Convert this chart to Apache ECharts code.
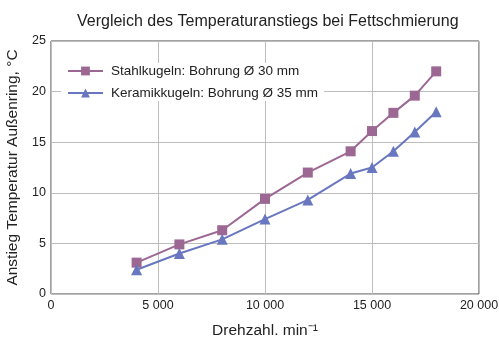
<!DOCTYPE html>
<html>
<head>
<meta charset="utf-8">
<script src="https://cdn.jsdelivr.net/npm/echarts@6/dist/echarts.min.js"></script>
<style>
	html, body {margin: 0; padding: 0; background: #fff;}
	#chart {width: 499px; height: 338px;}
</style>
</head>
<body>
<div id="chart"></div>
<script>
// data
var drehzahl = [4000, 6000, 8000, 10000, 12000, 14000, 15000, 16000, 17000, 18000];
var stahl = [3.1, 4.9, 6.3, 9.4, 12.0, 14.1, 16.1, 17.9, 19.6, 22.0];
var keramik = [2.4, 4.0, 5.4, 7.4, 9.3, 11.9, 12.5, 14.1, 16.0, 18.0];
var seriesNames = ['Stahlkugeln: Bohrung Ø 30 mm', 'Keramikkugeln: Bohrung Ø 35 mm'];

function pairs(xs, ys){
	var out = [];
	for (var i=0; i<xs.length; i++){
		out.push([xs[i], ys[i]]);
	}
	return out;
}

// "15000" -> "15 000"
function thousands(v){
	return String(v).replace(/\B(?=(\d{3})+(?!\d))/g, ' ');
}

var font = 'Liberation Sans, Arial, sans-serif';
var chart = echarts.init(document.getElementById('chart'));
var option = {
	animation: false,
	textStyle: {fontFamily: font},
	title: {
		text: 'Vergleich des Temperaturanstiegs bei Fettschmierung',
		left: 72,
		top: 9,
		textStyle: {fontSize: 16, fontWeight: 'normal', color: '#222', fontFamily: font}
	},
	grid: {
		left: 51, right: 20, top: 41, bottom: 44,
		outerBoundsMode: 'none',
		containLabel: false,
		show: true, borderColor: '#444', borderWidth: 1, backgroundColor: '#fff'
	},
	legend: {
		orient: 'vertical',
		left: 61, top: 63,
		itemWidth: 35, itemHeight: 11,
		itemGap: 8,
		padding: [1, 6, 1, 6],
		backgroundColor: '#fff',
		textStyle: {fontSize: 13.5, color: '#222', fontFamily: font, padding: [0, 0, 0, 3]},
		data: seriesNames
	},
	xAxis: {
		type: 'value',
		min: 0, max: 20000, interval: 5000,
		name: 'Drehzahl. min⁻¹',
		nameLocation: 'middle',
		nameGap: 29,
		nameTextStyle: {fontSize: 15.5, color: '#222', verticalAlign: 'top'},
		axisLine: {show: false},
		axisTick: {show: false},
		axisLabel: {fontSize: 12.5, color: '#222', margin: 5, formatter: thousands},
		splitLine: {lineStyle: {color: '#bdbdbd'}}
	},
	yAxis: {
		type: 'value',
		min: 0, max: 25, interval: 5,
		name: 'Anstieg Temperatur Außenring, °C',
		nameLocation: 'middle',
		nameGap: 29,
		nameTextStyle: {fontSize: 15.5, color: '#222'},
		axisLine: {show: false},
		axisTick: {show: false},
		axisLabel: {fontSize: 12.5, color: '#222', margin: 5},
		splitLine: {lineStyle: {color: '#bdbdbd'}}
	},
	series: [
		{
			name: seriesNames[0],
			type: 'line',
			data: pairs(drehzahl, stahl),
			symbol: 'rect',
			symbolSize: 10,
			color: '#9c6893',
			lineStyle: {width: 2}
		},
		{
			name: seriesNames[1],
			type: 'line',
			data: pairs(drehzahl, keramik),
			symbol: 'triangle',
			symbolSize: 11,
			color: '#6877bf',
			lineStyle: {width: 2}
		}
	]
};
chart.setOption(option);
</script>
</body>
</html>
